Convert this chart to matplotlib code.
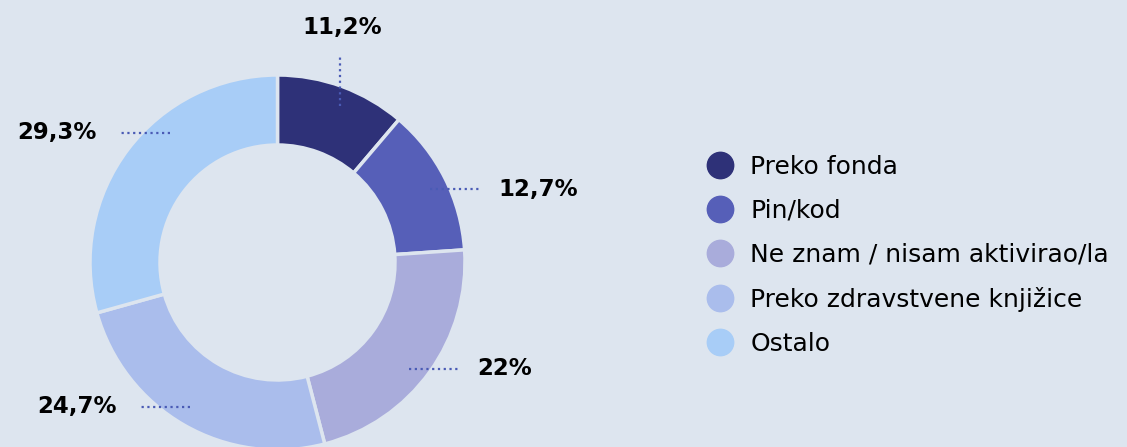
import numpy as np
import matplotlib
matplotlib.use("Agg")
import matplotlib.pyplot as plt
from matplotlib.lines import Line2D

# data
categories = ["Preko fonda", "Pin/kod", "Ne znam / nisam aktivirao/la",
              "Preko zdravstvene knjižice", "Ostalo"]
values = [11.2, 12.7, 22, 24.7, 29.3]
colors = ["#2e3178", "#565fb8", "#a9acdb", "#aabdec", "#a8cdf7"]
# leader line direction and small angular nudge of its anchor (degrees)
leader_dirs = ["up", "right", "right", "left", "left"]
leader_nudge = [-1.4, -1.1, -3.3, -1.5, -13.1]

bg = "#dde5ef"
plt.rcParams['font.family'] = ['DejaVu Sans']

fig = plt.figure(figsize=(11.27, 4.47), dpi=100, facecolor=bg)
ax = fig.add_axes([0, 0, 1, 1])
ax.set_facecolor(bg)

cx, cy, R = 277.5, 184.5, 187.5
wedges, _ = ax.pie(values, colors=colors, startangle=90, counterclock=False,
                   center=(cx, cy), radius=R, frame=True,
                   wedgeprops=dict(width=70, edgecolor=bg, linewidth=2.5))
ax.set_xlim(0, 1127)
ax.set_ylim(0, 447)
ax.set_aspect("equal")
ax.axis("off")

# leader lines + labels
leader_len = 50
for w, v, d, nd in zip(wedges, values, leader_dirs, leader_nudge):
    ang = np.deg2rad((w.theta1 + w.theta2) / 2 + nd)
    x0 = cx + 0.9 * R * np.cos(ang)
    y0 = cy + 0.9 * R * np.sin(ang)
    txt = ("%g%%" % v).replace(".", ",")
    if d == "up":
        x1, y1 = x0, y0 + leader_len
        ax.text(x1 + 3, y1 + 17, txt, ha="center", va="bottom",
                fontsize=16.5, fontweight="bold", color="black")
    elif d == "right":
        x1, y1 = x0 + leader_len, y0
        ax.text(x1 + 19, y1, txt, ha="left", va="center",
                fontsize=16.5, fontweight="bold", color="black")
    else:
        x1, y1 = x0 - leader_len, y0
        ax.text(x1 - 23, y1, txt, ha="right", va="center",
                fontsize=16.5, fontweight="bold", color="black")
    ax.plot([x0, x1], [y0, y1], color="#4a5bb5", linewidth=1.6,
            linestyle=(0, (1, 1.6)), solid_capstyle="round")

handles = [Line2D([], [], marker="o", linestyle="none", markersize=19,
                  markerfacecolor=c, markeredgecolor=c) for c in colors]
fig.legend(handles, categories, loc="upper left", bbox_to_anchor=(0.627, 0.654),
           frameon=False, fontsize=18, handletextpad=0.65, labelspacing=0.8,
           borderaxespad=0, borderpad=0, handlelength=1.1)

fig.savefig("out.png", dpi=100, facecolor=bg)
